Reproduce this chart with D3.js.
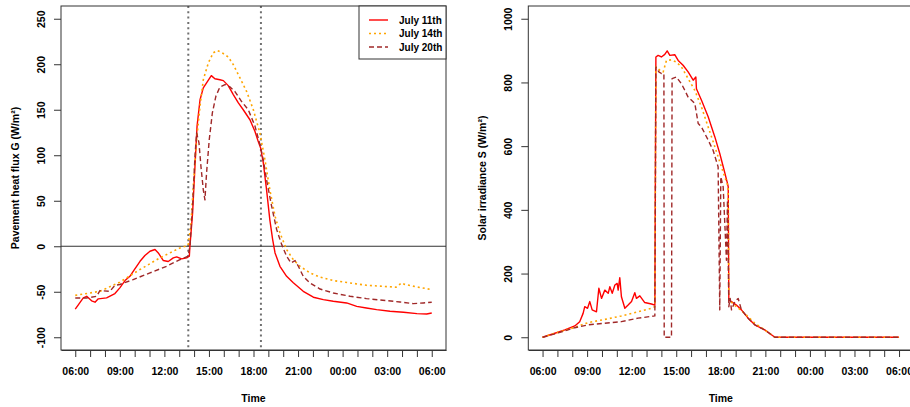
<!DOCTYPE html>
<html><head><meta charset="utf-8">
<script src="https://cdn.jsdelivr.net/npm/d3@7"></script>
<style>body{margin:0;background:#fff}svg{display:block}text{font-family:"Liberation Sans",Arial,sans-serif;font-weight:bold;fill:#000}</style>
</head><body><svg id="c" width="910" height="407"></svg>
<script>
// time in hours after 06:00 of day 1
const xTickLabels = ["06:00","09:00","12:00","15:00","18:00","21:00","00:00","03:00","06:00"];
const seriesNames = ["July 11th","July 14th","July 20th"];
const shadeLines = [7.61, 12.5]; // 13:37 and 18:30
const gTicks = [-100,-50,0,50,100,150,200,250];
const sTicks = [0,200,400,600,800,1000];

// Pavement heat flux G (W/m²)
const g11 = [[0,-69],[0.54,-56.7],[0.77,-55],[1.1,-60],[1.33,-61.5],[1.55,-57.8],[2.11,-56.7],[2.67,-52],[3.0,-45.7],[3.35,-37.7],[3.68,-33],[3.9,-27.5],[4.36,-16.5],[4.69,-10.2],[5.03,-5.5],[5.37,-3.6],[5.59,-7.3],[5.93,-15.7],[6.26,-16.8],[6.6,-12.8],[6.83,-11.7],[7.16,-13.9],[7.5,-12.8],[7.68,-11],[7.72,0],[7.9,36.6],[8.06,88],[8.2,132],[8.4,161],[8.62,174],[8.84,179.5],[9.16,187.5],[9.4,184],[9.74,183],[9.97,182],[10.3,176.5],[10.64,166.7],[10.98,157.5],[11.31,150],[11.76,139],[12.1,126],[12.32,115],[12.48,108],[12.66,91.6],[12.88,62],[13.1,29],[13.29,7.3],[13.45,-7.3],[13.78,-22],[14.23,-33],[14.68,-40],[15.35,-49.5],[16.03,-56],[16.7,-58.6],[17.37,-60.4],[18.27,-62.3],[18.95,-66],[19.6,-67.8],[20.29,-69.6],[21.19,-71.4],[22.1,-72.5],[23.0,-74],[23.66,-74.4],[24,-73.3]];
const g14 = [[0,-54],[1.66,-49.5],[3.0,-39.5],[4.35,-25.6],[5.7,-12.8],[7.05,-1.8],[7.6,1],[7.77,22],[7.95,66],[8.17,117],[8.4,154],[8.62,183],[8.96,201.5],[9.29,212.5],[9.56,215],[9.85,213],[10.3,208],[10.64,199.6],[11.09,185],[11.54,170],[11.99,150],[12.43,124.5],[12.77,95],[13.1,62],[13.45,33],[13.78,14.7],[14.23,-3.7],[14.68,-14.7],[15.13,-22],[15.8,-29.3],[16.48,-34],[17.37,-37.7],[18.5,-40.3],[19.6,-42.9],[20.7,-44],[21.6,-45],[21.97,-40.3],[22.2,-42],[23.0,-44.7],[24,-47.6]];
const g20 = [[0,-56.8],[0.76,-56.8],[1.44,-55],[1.66,-48.7],[2.33,-49.5],[2.67,-43],[3.0,-42],[3.9,-36.6],[5.03,-29.3],[6.15,-22],[7.05,-14.7],[7.6,-11],[7.72,0],[7.9,44],[8.06,99],[8.17,124.5],[8.33,113.5],[8.46,88],[8.62,62],[8.73,51],[8.84,80.6],[9.02,117],[9.23,146.5],[9.47,165],[9.74,175],[10.08,177.7],[10.42,175],[10.75,170],[11.2,159],[11.65,150],[12.1,132],[12.43,112],[12.66,95],[12.88,73],[13.22,44],[13.56,18.3],[13.9,1.8],[14.23,-11],[14.52,-18.3],[14.8,-15.7],[15.02,-22],[15.35,-33],[15.8,-40.3],[16.48,-47],[17.37,-51.3],[18.5,-55],[19.6,-57.5],[20.7,-59.3],[21.86,-61.2],[22.76,-63],[23.43,-62.3],[24,-61.5]];

// Solar irradiance S (W/m²)
const s11 = [[0,0],[0.83,12.5],[1.5,23],[2.17,35.5],[2.5,49],[2.73,75],[2.84,96],[3.03,91],[3.18,112],[3.34,86],[3.63,80],[3.79,154],[3.97,122],[4.19,148],[4.42,138],[4.53,159],[4.69,138],[4.87,164],[5.02,169],[5.09,148],[5.2,187],[5.31,127],[5.54,91],[5.76,101],[5.99,112],[6.21,140],[6.32,122],[6.55,130],[6.88,109],[7.33,104.5],[7.56,101],[7.63,880],[7.78,885],[8.0,880],[8.23,888],[8.39,899],[8.57,885],[8.9,887],[9.13,869],[9.46,854],[9.8,833],[10.14,807],[10.32,817],[10.36,780],[10.7,744],[11.15,692],[11.6,629],[11.93,577],[12.22,525],[12.45,483],[12.5,472],[12.54,117],[12.72,112],[13.05,101],[13.39,86],[13.84,60],[14.29,39],[14.96,23],[15.64,0],[24,0]];
const s14 = [[0,0],[0.83,12.5],[2.17,31],[3.07,46],[4.19,56],[5.31,67],[6.43,80],[7.33,91],[7.56,96],[7.63,849],[7.9,838],[8.12,833],[8.34,869],[8.68,871],[9.01,864],[9.35,849],[9.8,812],[10.25,775],[10.7,723],[11.15,660],[11.6,598],[12.04,535],[12.38,488],[12.5,472],[12.54,117],[13.05,96],[13.61,75],[14.29,44],[14.96,23],[15.64,0],[24,0]];
const s20 = [[0,0],[0.83,10.5],[2.17,30],[3.07,39],[4.19,44],[5.31,49],[6.43,60],[7.56,67],[7.63,849],[7.83,833],[8.0,828],[8.17,828],[8.19,0],[8.68,0],[8.72,812],[9.01,817],[9.35,796],[9.58,775],[9.8,754],[10.25,734],[10.48,671],[10.7,660],[11.15,619],[11.48,587],[11.82,535],[11.93,86],[12.0,504],[12.16,472],[12.38,242],[12.45,430],[12.54,96],[12.63,122],[12.72,86],[12.95,112],[13.17,122],[13.39,86],[13.84,60],[14.29,39],[14.96,23],[15.64,0],[24,0]];

const styles = [
  {color:"#FF0000", dash:null, w:1.4},
  {color:"#FFA500", dash:"2,3", w:1.6},
  {color:"#A02828", dash:"5,3", w:1.4}
];

const svg = d3.select("#c");

function panel(opt){
  const {left,right,top,bottom,ydom,yticks,ytitle,series,vlines,hzero,legend} = opt;
  const pad = 24*0.04;
  const x = d3.scaleLinear().domain([-pad, 24+pad]).range([left,right]);
  const ypad = (ydom[1]-ydom[0])*0.04;
  const y = d3.scaleLinear().domain([ydom[0]-ypad, ydom[1]+ypad]).range([bottom,top]);
  const g = svg.append("g");
  const clipId = "clip"+Math.round(left);
  g.append("clipPath").attr("id",clipId).append("rect").attr("x",left).attr("y",top).attr("width",right-left).attr("height",bottom-top);
  const inner = g.append("g").attr("clip-path",`url(#${clipId})`);

  if(vlines){
    vlines.forEach(h=>{
      inner.append("line").attr("x1",x(h)).attr("x2",x(h)).attr("y1",top).attr("y2",bottom)
        .attr("stroke","#707070").attr("stroke-width",2).attr("stroke-dasharray","2,3.3");
    });
  }
  if(hzero){
    inner.append("line").attr("x1",left).attr("x2",right).attr("y1",y(0)).attr("y2",y(0))
      .attr("stroke","#333").attr("stroke-width",1);
  }
  const line = d3.line().x(d=>x(d[0])).y(d=>y(d[1]));
  series.forEach((s,i)=>{
    inner.append("path").datum(s).attr("d",line).attr("fill","none")
      .attr("stroke",styles[i].color).attr("stroke-width",styles[i].w)
      .attr("stroke-dasharray",styles[i].dash).attr("stroke-linejoin","round");
  });
  // box
  g.append("rect").attr("x",left).attr("y",top).attr("width",right-left).attr("height",bottom-top)
    .attr("fill","none").attr("stroke","#333").attr("stroke-width",1);

  // x axis: hourly ticks, labels every 3 h
  const hourTicks = d3.range(0,25,1);
  const xa = g.append("g").attr("transform",`translate(0,${bottom})`)
    .call(d3.axisBottom(x).tickValues(hourTicks).tickSize(7).tickSizeOuter(0)
      .tickFormat(h=> h%3===0 ? xTickLabels[h/3] : ""));
  xa.select(".domain").attr("stroke","#333");
  xa.selectAll(".tick line").attr("stroke","#333");
  xa.selectAll(".tick text").attr("font-size","10.5px").attr("dy","0").attr("y",25).attr("fill","#000");

  // y axis
  const ya = g.append("g").attr("transform",`translate(${left},0)`)
    .call(d3.axisLeft(y).tickValues(yticks).tickSize(7).tickSizeOuter(0).tickFormat(d=>String(d)));
  ya.select(".domain").attr("stroke","none");
  ya.selectAll(".tick line").attr("stroke","#333");
  ya.selectAll(".tick text").attr("font-size","10.5px").attr("x",0).attr("dy","0")
    .attr("text-anchor","middle").attr("transform","translate(-16,0) rotate(-90)").attr("fill","#000");

  g.append("text").attr("x",(left+right)/2).attr("y",402).attr("text-anchor","middle")
    .attr("font-size","10.5px").text("Time");
  g.append("text").attr("transform",`translate(${left-42},${(top+bottom)/2}) rotate(-90)`)
    .attr("text-anchor","middle").attr("font-size","10.5px").text(ytitle);

  if(legend){
    const lx = right-87, ly = top, lw = 87, lh = 53;
    g.append("rect").attr("x",lx).attr("y",ly).attr("width",lw).attr("height",lh)
      .attr("fill","#fff").attr("stroke","#333").attr("stroke-width",1);
    seriesNames.forEach((n,i)=>{
      const yy = ly + 14 + i*13.5;
      g.append("line").attr("x1",lx+10).attr("x2",lx+29).attr("y1",yy).attr("y2",yy)
        .attr("stroke",styles[i].color).attr("stroke-width",styles[i].w).attr("stroke-dasharray",styles[i].dash);
      g.append("text").attr("x",lx+40).attr("y",yy+3.5).attr("font-size","10px").text(n);
    });
  }
}

panel({left:61,right:446,top:6,bottom:350,ydom:[-100,250],yticks:gTicks,
  ytitle:"Pavement heat flux G (W/m²)",series:[g11,g14,g20],vlines:shadeLines,hzero:true,legend:true});
panel({left:528.3,right:913.3,top:6,bottom:350,ydom:[0,1000],yticks:sTicks,
  ytitle:"Solar irradiance S (W/m²)",series:[s11,s14,s20],vlines:null,hzero:false,legend:false});
</script></body></html>
